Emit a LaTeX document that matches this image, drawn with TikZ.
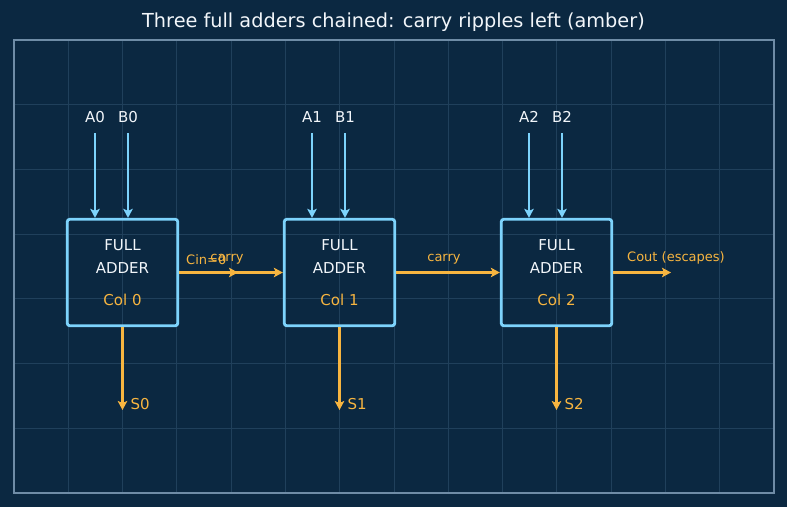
\documentclass[tikz,border=0pt]{standalone}
\usepackage{fontspec}
\setmainfont{DejaVu Sans}
\usepackage{tikz}
\usetikzlibrary{calc,arrows.meta}
\definecolor{rc-bg}{HTML}{0B2841}
\definecolor{rc-grid}{HTML}{20405B}
\definecolor{rc-frame}{HTML}{6F8CA6}
\definecolor{rc-wire}{HTML}{7DD3FC}
\definecolor{rc-carry}{HTML}{F7B540}
\definecolor{rc-text}{HTML}{F2F6FA}

\tikzset{
  adder/.style={draw=rc-wire, line width=2.8pt, rounded corners=2.5pt,
    minimum width=110.5pt, minimum height=106.5pt, align=center, text=rc-text,
    font=\fontsize{15}{23}\selectfont},
  inlbl/.style={text=rc-text, font=\fontsize{15}{18}\selectfont},
  sumlbl/.style={text=rc-carry, font=\fontsize{15}{18}\selectfont, inner sep=0pt},
  carrylbl/.style={text=rc-carry, font=\fontsize{13}{15}\selectfont, inner sep=0pt},
  inwire/.style={draw=rc-wire, line width=2.6pt, shorten <=7pt,
    -{Stealth[length=9pt,width=9.5pt,inset=2pt]}},
  carrywire/.style={draw=rc-carry, line width=3pt,
    -{Stealth[length=9pt,width=9.5pt,inset=2pt]}}
}

\begin{document}
\begin{tikzpicture}[x=1pt, y=-1pt]
    % Background and frame
    \fill[rc-bg] (0,0) rectangle (787,507);
    \useasboundingbox (0,0) rectangle (787,507);
    \foreach \k in {1,...,13}
        \draw[rc-grid, line width=0.8pt] ({14+54.2857*\k},40) -- ({14+54.2857*\k},493);
    \foreach \k in {1,...,6}
        \draw[rc-grid, line width=0.8pt] (14,{40+64.714*\k}) -- (774,{40+64.714*\k});
    \draw[rc-frame, line width=1.5pt] (14,40) rectangle (774,493);
    \node[text=rc-text, font=\fontsize{19.3}{22}\selectfont] (title) at (393.5,22)
        {Three full adders chained: carry ripples left (amber)};
    % One column per bit: adder, inputs A/B, sum out
    \foreach \i/\x in {0/122.5, 1/339.5, 2/556.5} {
        \node[adder] (fa\i) at (\x,272.5) {FULL\\ADDER\\[9pt]\textcolor{rc-carry}{Col \i}};
        \node[inlbl] (a\i) at (\x-27.5,117) {A\i};
        \node[inlbl] (b\i) at (\x+5.5,117) {B\i};
        \draw[inwire] (a\i) -- (a\i |- fa\i.north);
        \draw[inwire] (b\i) -- (b\i |- fa\i.north);
        \coordinate (s\i) at (\x,410);
        \draw[carrywire] (fa\i) -- (s\i);
        \node[sumlbl, anchor=west] (slbl\i) at ([xshift=8pt,yshift=6pt]s\i) {S\i};
    }
    % Carry chain
    \coordinate (cin) at (238,272.5);
    \draw[carrywire] (fa0) -- (cin);
    \node[carrylbl, anchor=west] (cinlbl) at (186,260) {Cin=0};
    \draw[carrywire] (fa0) -- (fa1) node[carrylbl, midway, xshift=-4pt, yshift=13.5pt] (c01) {carry};
    \draw[carrywire] (fa1) -- (fa2) node[carrylbl, midway, xshift=-4pt, yshift=13.5pt] (c12) {carry};
    \coordinate (cout) at (671,272.5);
    \draw[carrywire] (fa2) -- (cout);
    \node[carrylbl, anchor=west] (coutlbl) at (627,257.5) {Cout (escapes)};
\end{tikzpicture}
\end{document}
